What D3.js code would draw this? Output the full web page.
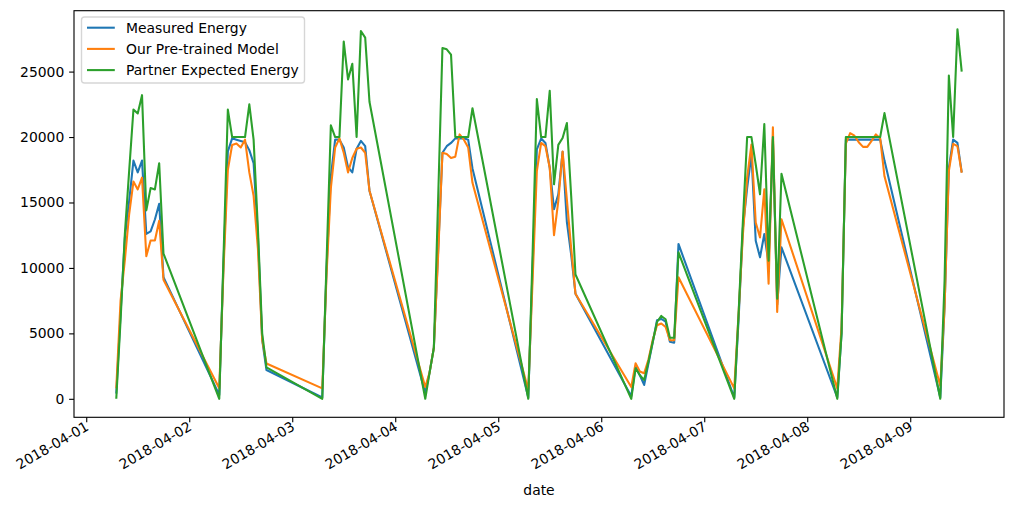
<!DOCTYPE html>
<html>
<head>
<meta charset="utf-8">
<script src="https://cdn.jsdelivr.net/npm/d3@7/dist/d3.min.js"></script>
<style>
  body { margin: 0; background: #fff; }
  svg { display: block; font-family: "DejaVu Sans", sans-serif; }
</style>
</head>
<body>
<div id="chart"></div>
<script>
// readings are hourly, daytime only (07:00-18:00), last day ends at 12:00
var days = ["2018-04-01", "2018-04-02", "2018-04-03", "2018-04-04", "2018-04-05",
            "2018-04-06", "2018-04-07", "2018-04-08", "2018-04-09"];
var dayHours = [7, 8, 9, 10, 11, 12, 13, 14, 15, 16, 17, 18];
var lastDayHours = [7, 8, 9, 10, 11, 12];

var measured = [
  400, 6500, 12300, 15100, 18200, 17300, 18200, 12600, 12800, 13700, 14900, 9300,
  300, 10500, 18900, 19900, 19800, 19700, 19600, 19000, 18000, 12500, 4500, 2200,
  100, 10000, 17000, 19800, 19800, 19200, 17700, 17300, 19100, 19700, 19300, 15900,
  450, 2000, 3900, 11300, 18800, 19300, 19550, 19900, 19900, 19900, 19800, 17600,
  100, 10000, 19050, 19880, 19550, 17650, 14490, 15630, 18870, 13500, 11000, 8030,
  200, 2460, 1800, 1060, 2700, 4300, 6000, 6100, 5900, 4360, 4280, 11830,
  100, 6000, 13000, 16100, 18670, 12080, 10810, 12590, 10310, 19800, 7200, 11570,
  100, 5000, 19800, 19800, 19800, 19800, 19800, 19800, 19800, 19800, 19800, 18200,
  100, 7000, 17650, 19810, 19550, 17300
];
var pretrained = [
  800, 7500, 10600, 14100, 16600, 16000, 16900, 10900, 12100, 12100, 13600, 9100,
  800, 10000, 17500, 19400, 19500, 19200, 19800, 17300, 15500, 11500, 4500, 2700,
  800, 9500, 16100, 19200, 19900, 18800, 17300, 18400, 19100, 19200, 18800, 15900,
  900, 2000, 3900, 11000, 18800, 18700, 18400, 18500, 20200, 19800, 19200, 16500,
  700, 9000, 17400, 19550, 19300, 17650, 12500, 15120, 18900, 15200, 11500, 8030,
  900, 2710, 2080, 1950, 3000, 4500, 5620, 5750, 5490, 4480, 4480, 9290,
  800, 6500, 12500, 16900, 19430, 13470, 12330, 16010, 8790, 20740, 6630, 13720,
  800, 5500, 19500, 20300, 20100, 19600, 19250, 19250, 19700, 20200, 19900, 17000,
  1000, 7000, 17400, 19480, 19300, 17270
];
var partner = [
  0, 6000, 12600, 17400, 22100, 21800, 23200, 14400, 16100, 16000, 18000, 11100,
  0, 11000, 22100, 20000, 20000, 20000, 20000, 22500, 19800, 13000, 5000, 2400,
  0, 10500, 20900, 20000, 20000, 27300, 24400, 25600, 20000, 28100, 27600, 22700,
  0, 2000, 3900, 15300, 26800, 26700, 26300, 20000, 20000, 20000, 20000, 22200,
  0, 11000, 22900, 20000, 20000, 23530, 16390, 19400, 19930, 21070, 15500, 9500,
  0, 2330, 1800, 1440, 2840, 4360, 5870, 6330, 6080, 4660, 4660, 11190,
  0, 6500, 13500, 20000, 20000, 17900, 15630, 21000, 10560, 20000, 7650, 17200,
  0, 5000, 20000, 20000, 20000, 20000, 20000, 20000, 20000, 20000, 20000, 21830,
  0, 9000, 24700, 20000, 28240, 25000
];

var seriesNames = ["Measured Energy", "Our Pre-trained Model", "Partner Expected Energy"];
var seriesColors = ["#1f77b4", "#ff7f0e", "#2ca02c"];
var yTicks = [0, 5000, 10000, 15000, 20000, 25000];
var xLabel = "date";

// build timestamps
var parseHour = d3.utcParse("%Y-%m-%d %H");
var times = [];
days.forEach(function(day, i) {
  var hrs = (i === days.length - 1) ? lastDayHours : dayHours;
  hrs.forEach(function(h) { times.push(parseHour(day + " " + h)); });
});

var allSeries = [measured, pretrained, partner];

var width = 1014, height = 509;
var box = {left: 74, right: 1004, top: 10.7, bottom: 417.3};
var fontSize = 13.9;
var pt = 100 / 72;   // matplotlib points -> px

var svg = d3.select("#chart").append("svg")
    .attr("width", width)
    .attr("height", height);

// matplotlib style 5% margins
var tExtent = d3.extent(times);
var tPad = (tExtent[1] - tExtent[0]) * 0.05;
var x = d3.scaleUtc()
    .domain([new Date(+tExtent[0] - tPad), new Date(+tExtent[1] + tPad)])
    .range([box.left, box.right]);

var vMin = d3.min(allSeries, function(s) { return d3.min(s); });
var vMax = d3.max(allSeries, function(s) { return d3.max(s); });
var vPad = (vMax - vMin) * 0.05;
var y = d3.scaleLinear()
    .domain([vMin - vPad, vMax + vPad])
    .range([box.bottom, box.top]);

svg.append("clipPath").attr("id", "clip")
  .append("rect")
    .attr("x", box.left).attr("y", box.top)
    .attr("width", box.right - box.left).attr("height", box.bottom - box.top);

var line = d3.line()
    .x(function(d, i) { return x(times[i]); })
    .y(function(d) { return y(d); });

svg.append("g")
    .attr("clip-path", "url(#clip)")
  .selectAll("path")
    .data(allSeries)
  .enter().append("path")
    .attr("d", line)
    .attr("fill", "none")
    .attr("stroke", function(d, i) { return seriesColors[i]; })
    .attr("stroke-width", 1.5 * pt)
    .attr("stroke-linejoin", "round");

// axes
var xAxis = d3.axisBottom(x)
    .ticks(d3.utcDay.every(1))
    .tickFormat(d3.utcFormat("%Y-%m-%d"))
    .tickSize(3.5 * pt)
    .tickSizeOuter(0);

var gx = svg.append("g")
    .attr("transform", "translate(0," + box.bottom + ")")
    .call(xAxis);
gx.select(".domain").remove();
gx.selectAll(".tick line").attr("stroke", "#000").attr("stroke-width", 0.8 * pt);
gx.selectAll(".tick text")
    .attr("x", 0).attr("y", 0).attr("dy", null)
    .attr("text-anchor", "end")
    .attr("transform", "translate(3,12) rotate(-30)")
    .style("font-size", fontSize + "px")
    .style("font-family", "DejaVu Sans")
    .attr("fill", "#000");

var yAxis = d3.axisLeft(y)
    .tickValues(yTicks)
    .tickFormat(d3.format("d"))
    .tickSize(3.5 * pt)
    .tickPadding(3.5 * pt)
    .tickSizeOuter(0);

var gy = svg.append("g")
    .attr("transform", "translate(" + box.left + ",0)")
    .call(yAxis);
gy.select(".domain").remove();
gy.selectAll(".tick line").attr("stroke", "#000").attr("stroke-width", 0.8 * pt);
gy.selectAll(".tick text")
    .style("font-size", fontSize + "px")
    .style("font-family", "DejaVu Sans")
    .attr("fill", "#000");

// frame
svg.append("rect")
    .attr("x", box.left).attr("y", box.top)
    .attr("width", box.right - box.left).attr("height", box.bottom - box.top)
    .attr("fill", "none")
    .attr("stroke", "#000")
    .attr("stroke-width", 0.8 * pt);

svg.append("text")
    .attr("x", (box.left + box.right) / 2)
    .attr("y", 495)
    .attr("text-anchor", "middle")
    .style("font-size", fontSize + "px")
    .text(xLabel);

// legend
var legend = svg.append("g").attr("transform", "translate(81.5,17)");
legend.append("rect")
    .attr("width", 223).attr("height", 66)
    .attr("rx", 3)
    .attr("fill", "#fff").attr("fill-opacity", 0.8)
    .attr("stroke", "#cccccc").attr("stroke-opacity", 0.8)
    .attr("stroke-width", pt);

var rows = legend.selectAll(".row")
    .data(seriesNames)
  .enter().append("g")
    .attr("transform", function(d, i) { return "translate(0," + (10.7 + i * 21.2) + ")"; });
rows.append("line")
    .attr("x1", 5.5).attr("x2", 33.3)
    .attr("stroke", function(d, i) { return seriesColors[i]; })
    .attr("stroke-width", 1.5 * pt);
rows.append("text")
    .attr("x", 44.5)
    .attr("dy", "0.36em")
    .style("font-size", fontSize + "px")
    .text(function(d) { return d; });
</script>
</body>
</html>
